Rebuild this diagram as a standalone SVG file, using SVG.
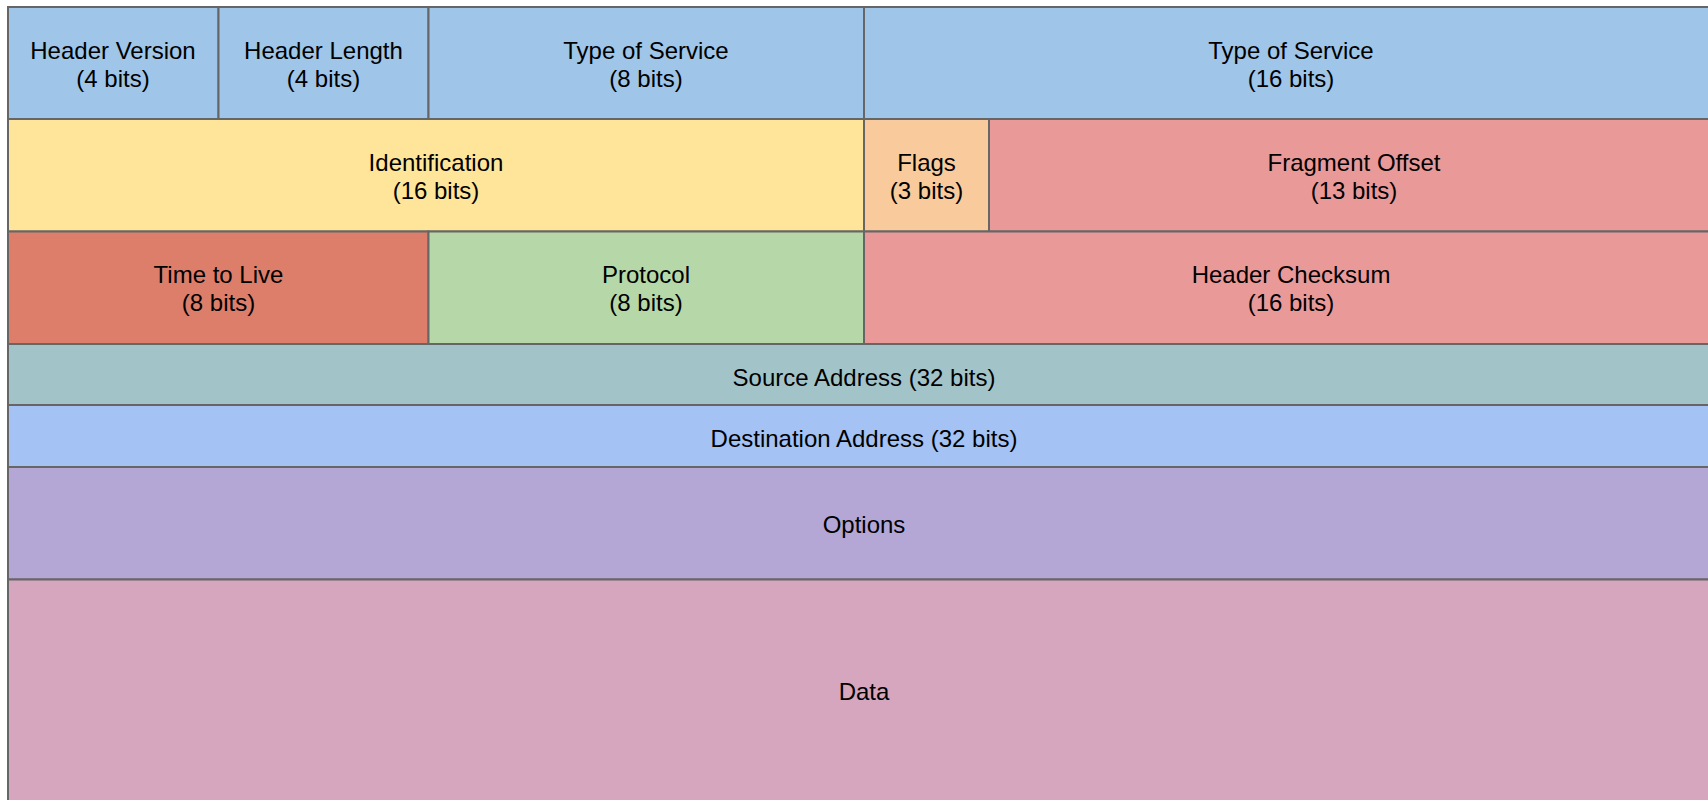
<svg xmlns="http://www.w3.org/2000/svg" width="1708" height="800" viewBox="0 0 1708 800">
<style>
rect{stroke:#666666;stroke-width:2}
text{font-family:"Liberation Sans",Arial,sans-serif;font-size:24px;fill:#000;text-anchor:middle}
</style>
<rect x="0" y="0" width="1708" height="800" fill="#ffffff" style="stroke:none"/>
<g id="header-version"><rect x="8" y="7" width="210.5" height="112" fill="#9fc5e8"/><text x="113" y="59">Header Version</text><text x="113" y="87">(4 bits)</text></g>
<g id="header-length"><rect x="218.5" y="7" width="210" height="112" fill="#9fc5e8"/><text x="323.5" y="59">Header Length</text><text x="323.5" y="87">(4 bits)</text></g>
<g id="tos-8"><rect x="428.5" y="7" width="435.5" height="112" fill="#9fc5e8"/><text x="646" y="59">Type of Service</text><text x="646" y="87">(8 bits)</text></g>
<g id="tos-16"><rect x="864" y="7" width="856" height="112" fill="#9fc5e8"/><text x="1291" y="59">Type of Service</text><text x="1291" y="87">(16 bits)</text></g>
<g id="identification"><rect x="8" y="119" width="856" height="112.5" fill="#ffe599"/><text x="436" y="171">Identification</text><text x="436" y="199">(16 bits)</text></g>
<g id="flags"><rect x="864" y="119" width="125" height="112.5" fill="#f9cb9c"/><text x="926.5" y="171">Flags</text><text x="926.5" y="199">(3 bits)</text></g>
<g id="fragment-offset"><rect x="989" y="119" width="731" height="112.5" fill="#ea9999"/><text x="1354" y="171">Fragment Offset</text><text x="1354" y="199">(13 bits)</text></g>
<g id="ttl"><rect x="8" y="231.5" width="420.5" height="112.5" fill="#dd7e6b"/><text x="218.5" y="282.5">Time to Live</text><text x="218.5" y="310.5">(8 bits)</text></g>
<g id="protocol"><rect x="428.5" y="231.5" width="435.5" height="112.5" fill="#b6d7a8"/><text x="646" y="282.5">Protocol</text><text x="646" y="310.5">(8 bits)</text></g>
<g id="header-checksum"><rect x="864" y="231.5" width="856" height="112.5" fill="#ea9999"/><text x="1291" y="282.5">Header Checksum</text><text x="1291" y="310.5">(16 bits)</text></g>
<g id="source-address"><rect x="8" y="344" width="1712" height="61" fill="#a2c4c9"/><text x="864" y="385.5">Source Address (32 bits)</text></g>
<g id="destination-address"><rect x="8" y="405" width="1712" height="62" fill="#a4c2f4"/><text x="864" y="446.5">Destination Address (32 bits)</text></g>
<g id="options"><rect x="8" y="467" width="1712" height="112.5" fill="#b4a7d6"/><text x="864" y="532.5">Options</text></g>
<g id="data"><rect x="8" y="579.5" width="1712" height="225" fill="#d5a6bd"/><text x="864" y="700">Data</text></g>
<g id="connectors"></g>
</svg>
